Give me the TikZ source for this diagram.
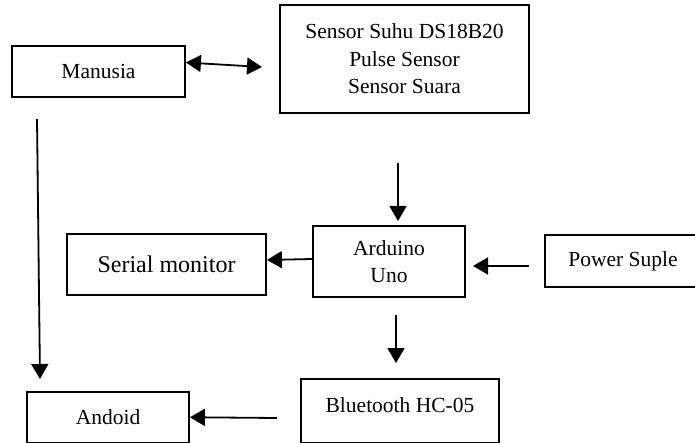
\documentclass[tikz,border=0pt]{standalone}
\usepackage{fontspec}
\setmainfont{Liberation Serif}
\usetikzlibrary{arrows.meta}

\begin{document}
\begin{tikzpicture}[x=0.5pt,y=-0.5pt,
  blok/.style={draw=black, line width=0.9pt, rectangle, inner sep=0pt, align=center, font=\fontsize{10.75}{13.75}\selectfont},
  panah/.style={line width=0.9pt, -{Triangle[length=7.5pt,width=8.5pt]}},
  dobel/.style={line width=0.9pt, {Triangle[length=7.5pt,width=8.5pt]}-{Triangle[length=7.5pt,width=8.5pt]}}]
\useasboundingbox (0,0) rectangle (695,443);
\clip (0,0) rectangle (695,443);
\node[blok, minimum width=86.5pt, minimum height=25.5pt] (manusia) at (98.5,71.5) {Manusia};
\node[blok, minimum width=124.5pt, minimum height=54pt] (sensor) at (404.5,59) {Sensor Suhu DS18B20\\Pulse Sensor\\Sensor Suara};
\node[blok, minimum width=99.5pt, minimum height=30.5pt, font=\fontsize{12}{14.4}\selectfont] (serial) at (166.5,264.5) {Serial monitor};
\node[blok, minimum width=76pt, minimum height=35.5pt] (arduino) at (389,261.5) {Arduino\\Uno};
\node[blok, minimum width=78pt, minimum height=26pt] (power) at (623,261) {Power Suple};
\node[blok, minimum width=99pt, minimum height=31.75pt, text depth=5.7pt] (bluetooth) at (400,410.75) {Bluetooth HC-05};
\node[blok, minimum width=81pt, minimum height=25.25pt] (andoid) at (108,417.25) {Andoid};

\coordinate (m2) at (262,67);
\coordinate (kiri1) at (37,119);
\coordinate (kiri2) at (40,379);
\coordinate (atas1) at (398,163);
\coordinate (atas2) at (398,221);
\coordinate (pwr1) at (529,266);
\coordinate (pwr2) at (473,266);
\coordinate (bawah1) at (396,315);
\coordinate (bawah2) at (396,363);
\coordinate (bt) at (277,418);

\draw[dobel] ([yshift=4.5pt]manusia.east) -- (m2);
\draw[panah] (kiri1) -- (kiri2);
\draw[panah] (atas1) -- (atas2);
\draw[panah] ([yshift=1.25pt]arduino.west) -- ([yshift=2.25pt]serial.east);
\draw[panah] (pwr1) -- (pwr2);
\draw[panah] (bawah1) -- (bawah2);
\draw[panah] (bt) -- (andoid.east);
\end{tikzpicture}
\end{document}
